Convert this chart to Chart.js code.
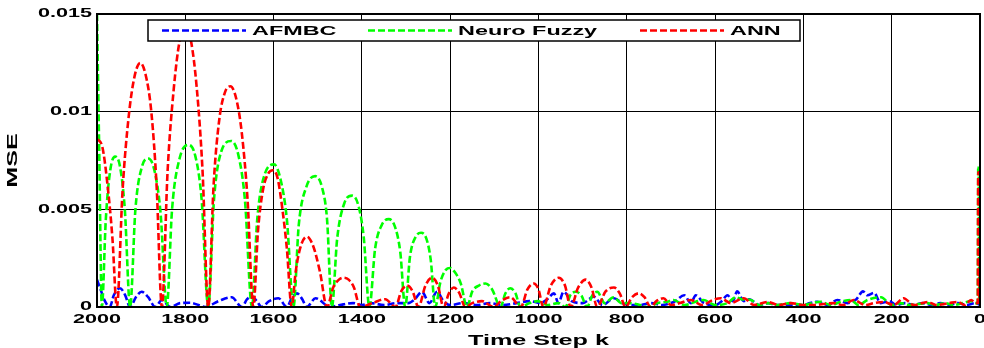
<!DOCTYPE html>
<html>
<head>
<meta charset="utf-8">
<script src="https://cdn.jsdelivr.net/npm/chart.js@4.4.1/dist/chart.umd.min.js"></script>
<style>
    html, body { margin: 0; padding: 0; background: #fff; }
    #wrap { width: 984px; height: 348px; }
</style>
</head>
<body>
<div id="wrap"><canvas id="mseChart"></canvas></div>
<script>
const seriesNames = ["AFMBC", "Neuro Fuzzy", "ANN"];
const yTickLabels = ["0", "0.005", "0.01", "0.015"];

// AFMBC
const afmbcSteps = [
    2000, 1992, 1982, 1971, 1962, 1948, 1936, 1925,
    1912, 1899, 1884, 1868, 1853, 1834, 1812, 1789,
    1770, 1755, 1725, 1695, 1672, 1660, 1649, 1638,
    1627, 1610, 1589, 1570, 1558, 1547, 1535, 1525,
    1505, 1472, 1450, 1420, 1400, 1380, 1350, 1320,
    1295, 1280, 1264, 1247, 1230, 1215, 1200, 1170,
    1140, 1110, 1080, 1050, 1020, 995, 980, 965,
    955, 943, 925, 900, 875, 855, 829, 810,
    790, 770, 745, 720, 700, 690, 670, 655,
    644, 625, 600, 585, 572, 560, 550, 535,
    523, 500, 480, 460, 430, 400, 385, 368,
    345, 323, 300, 280, 265, 255, 240, 225,
    205, 190, 170, 150, 130, 110, 90, 70,
    50, 30, 10, 0
];
const afmbcMse = [
    0.0014, 0.0009, 0.0003, 0, 0.0006, 0.00096, 0.0006, 0,
    0.0005, 0.00078, 0.0005, 0, 0.00036, 0, 0.0002, 0.00022,
    0.0001, 0, 0.0003, 0.0005, 0, 0.0004, 0.00053, 0.0003,
    0, 0.0003, 0.00045, 0, 0.0005, 0.0007, 0.0004, 0,
    0.00045, 0, 0.0001, 0.0002, 0.0001, 0.0002, 0.0001, 0.0002,
    0.0002, 0.0004, 0.00078, 0.0002, 0.00078, 0.0003, 0.0001, 0.0002,
    0.0001, 0.0002, 0.0001, 0.0002, 0.0003, 0.0002, 0.0004, 0.0007,
    0.0002, 0.00078, 0.0003, 0.0002, 0.00053, 0.0001, 0.00045, 0.0002,
    0.0001, 0.0001, 0.0002, 0.0001, 0.0002, 0.0003, 0.0006, 0.0002,
    0.0006, 0.0002, 0.0001, 0.0003, 0.0006, 0.0003, 0.0008, 0.0003,
    0.0004, 0.0001, 0.0002, 0.0001, 0.0001, 0.0001, 0.0002, 0.00027,
    0.0001, 0.00036, 0.0002, 0.0004, 0.0008, 0.0006, 0.00073, 0.0002,
    0.0003, 0.0001, 0.0002, 0.0001, 0.0002, 0.0001, 0.0002, 0.0001,
    0.0002, 0.0001, 0.0002, 0.0001
];

// Neuro Fuzzy
const fuzzySteps = [
    2000, 1995, 1989, 1980, 1970, 1959, 1948, 1937,
    1925, 1913, 1898, 1884, 1870, 1856, 1842, 1830,
    1813, 1793, 1777, 1763, 1748, 1735, 1718, 1696,
    1680, 1665, 1649, 1637, 1620, 1599, 1585, 1570,
    1555, 1543, 1525, 1506, 1490, 1479, 1468, 1456,
    1440, 1422, 1408, 1396, 1383, 1370, 1355, 1339,
    1325, 1313, 1302, 1291, 1278, 1266, 1254, 1244,
    1234, 1222, 1210, 1200, 1190, 1176, 1162, 1150,
    1135, 1120, 1105, 1086, 1075, 1064, 1052, 1041,
    1020, 1002, 980, 955, 939, 928, 916, 903,
    890, 878, 867, 850, 830, 812, 792, 770,
    753, 730, 708, 694, 670, 644, 626, 600,
    572, 553, 540, 519, 500, 480, 459, 430,
    400, 380, 361, 338, 315, 293, 275, 255,
    224, 200, 180, 160, 141, 120, 100, 80,
    60, 40, 20, 10, 5, 4, 3, 2
];
const fuzzyMse = [
    0.0150, 0.0080, 0, 0.0045, 0.0070, 0.0077, 0.0072, 0.0050,
    0, 0.0050, 0.0072, 0.0076, 0.0070, 0.0048, 0, 0.0050,
    0.0076, 0.0083, 0.0077, 0.0055, 0, 0.0055, 0.0080, 0.0085,
    0.0078, 0.0055, 0, 0.0045, 0.0068, 0.0073, 0.0066, 0.0045,
    0, 0.0042, 0.0062, 0.0067, 0.0061, 0.0045, 0, 0.0035,
    0.0053, 0.0057, 0.0052, 0.0036, 0, 0.0030, 0.0042, 0.0045,
    0.0041, 0.0028, 0, 0.0026, 0.0036, 0.0038, 0.0035, 0.0024,
    0, 0.0013, 0.0019, 0.0020, 0.0018, 0.0012, 0, 0.0008,
    0.0011, 0.0012, 0.0009, 0, 0.0007, 0.00096, 0.0007, 0,
    0.0002, 0.0003, 0.0001, 0.0002, 0, 0.0006, 0.00078, 0.0006,
    0, 0.0006, 0.00078, 0.0002, 0.0005, 0.0002, 0.0002, 0.0001,
    0, 0.0002, 0.00027, 0.00036, 0.0001, 0.00027, 0.00036, 0.0001,
    0.0002, 0.0005, 0.0004, 0.00036, 0.0001, 0.0002, 0.0001, 0.0002,
    0.0001, 0.0002, 0.00027, 0.0001, 0.00027, 0.00036, 0.0001, 0.00036,
    0.0005, 0.0001, 0.0002, 0.0001, 0.00015, 0.0002, 0.0001, 0.0002,
    0.0001, 0.0002, 0.0003, 0.0002, 0.0002, 0.0072, 0.0072, 0.0001
];

// ANN
const annSteps = [
    2000, 1988, 1975, 1965, 1955, 1942, 1928, 1915,
    1902, 1890, 1877, 1865, 1853, 1840, 1826, 1813,
    1800, 1787, 1774, 1761, 1748, 1736, 1723, 1710,
    1698, 1685, 1672, 1659, 1646, 1635, 1624, 1613,
    1602, 1591, 1580, 1570, 1559, 1550, 1540, 1525,
    1510, 1495, 1479, 1465, 1452, 1442, 1430, 1418,
    1404, 1376, 1347, 1324, 1311, 1298, 1285, 1272,
    1256, 1241, 1228, 1215, 1203, 1192, 1179, 1166,
    1150, 1128, 1102, 1085, 1064, 1040, 1025, 1011,
    1000, 989, 972, 954, 940, 927, 910, 893,
    880, 867, 848, 829, 816, 803, 788, 773,
    760, 746, 733, 717, 700, 680, 655, 630,
    605, 587, 565, 535, 512, 481, 455, 429,
    400, 376, 355, 331, 310, 286, 260, 240,
    218, 195, 173, 150, 118, 100, 70, 50,
    35, 20, 10, 5, 4, 3, 2, 0
];
const annMse = [
    0.0086, 0.0082, 0.0060, 0.0035, 0, 0.0060, 0.0098, 0.0118,
    0.0125, 0.0119, 0.0100, 0.0062, 0, 0.0070, 0.0112, 0.0136,
    0.0143, 0.0136, 0.0112, 0.0070, 0, 0.0062, 0.0096, 0.0110,
    0.0113, 0.0107, 0.0089, 0.0055, 0, 0.0040, 0.0060, 0.0068,
    0.0070, 0.0066, 0.0050, 0.0030, 0, 0.0018, 0.0030, 0.0036,
    0.0031, 0.0018, 0, 0.0010, 0.0014, 0.0015, 0.0014, 0.0010,
    0, 0.0002, 0.0004, 0, 0.0008, 0.0011, 0.0008, 0,
    0.0011, 0.0015, 0.0011, 0, 0.0007, 0.0010, 0.0007, 0,
    0.0002, 0.0003, 0, 0.0003, 0.0005, 0, 0.0009, 0.0012,
    0.0009, 0, 0.0011, 0.0015, 0.0011, 0, 0.0010, 0.0014,
    0.0010, 0, 0.0008, 0.0010, 0.0007, 0, 0.0005, 0.0007,
    0.0005, 0, 0.0003, 0.00045, 0.0001, 0.0002, 0.00036, 0.0001,
    0.00036, 0.00045, 0.0002, 0.00045, 0.0001, 0.00026, 0.0001, 0.0002,
    0.0001, 0.0001, 0.00015, 0.0002, 0.0001, 0.00036, 0.0001, 0.0002,
    0.00026, 0.0001, 0.00045, 0.0001, 0.00026, 0.0001, 0.0002, 0.00026,
    0.0001, 0.00036, 0.0002, 0.0002, 0.0069, 0.0069, 0.0002, 0.0024
];

const toPoints = (steps, values) => steps.map((k, i) => ({ x: k, y: values[i] }));

const FONT = '"Liberation Sans", Arial, sans-serif';
// the figure's lettering is very wide, so text gets stretched sideways
const TEXT_STRETCH = 1.8;

const wideText = {
    id: "wideText",
    beforeInit(chart) {
        const ctx = chart.ctx;
        const fill = ctx.fillText.bind(ctx);
        const measure = ctx.measureText.bind(ctx);
        ctx.fillText = (str, x, y) => {
            ctx.save();
            ctx.translate(x, y);
            ctx.scale(TEXT_STRETCH, 1);
            fill(str, 0, 0);
            ctx.restore();
        };
        ctx.measureText = (str) => {
            const m = measure(str);
            return {
                width: m.width * TEXT_STRETCH,
                actualBoundingBoxAscent: m.actualBoundingBoxAscent,
                actualBoundingBoxDescent: m.actualBoundingBoxDescent
            };
        };
    }
};

const plotFrame = {
    id: "plotFrame",
    afterDatasetsDraw(chart) {
        const { ctx, chartArea: a } = chart;
        ctx.save();
        ctx.strokeStyle = "#000";
        ctx.lineWidth = 2;
        ctx.strokeRect(a.left, a.top, a.right - a.left, a.bottom - a.top);
        ctx.restore();
    }
};

const boxLegend = {
    id: "boxLegend",
    afterDraw(chart) {
        const { ctx, chartArea: a } = chart;
        const x0 = a.left + 51, y0 = a.top + 6, w = 652, h = 21;
        const starts = [14, 220, 492];
        ctx.save();
        ctx.fillStyle = "#fff";
        ctx.fillRect(x0, y0, w, h);
        ctx.strokeStyle = "#000";
        ctx.lineWidth = 1.5;
        ctx.strokeRect(x0, y0, w, h);
        chart.data.datasets.forEach((ds, i) => {
            const lx = x0 + starts[i], ly = y0 + h / 2;
            ctx.setLineDash(ds.borderDash);
            ctx.strokeStyle = ds.borderColor;
            ctx.lineWidth = ds.borderWidth;
            ctx.beginPath();
            ctx.moveTo(lx, ly);
            ctx.lineTo(lx + 84, ly);
            ctx.stroke();
            ctx.setLineDash([]);
            ctx.fillStyle = "#000";
            ctx.font = "bold 13px " + FONT;
            ctx.textAlign = "left";
            ctx.textBaseline = "middle";
            ctx.fillText(ds.label, lx + 90, ly + 0.5);
        });
        ctx.restore();
    }
};

function lineSet(label, points, color, order) {
    return {
        label: label,
        data: points,
        borderColor: color,
        backgroundColor: color,
        borderWidth: 2.6,
        borderDash: [7, 3],
        pointRadius: 0,
        fill: false,
        cubicInterpolationMode: "monotone",
        order: order
    };
}

Chart.defaults.font.family = FONT;
Chart.defaults.color = "#000";

new Chart(document.getElementById("mseChart"), {
    type: "line",
    data: {
        datasets: [
            lineSet(seriesNames[0], toPoints(afmbcSteps, afmbcMse), "#0000ff", 3),
            lineSet(seriesNames[1], toPoints(fuzzySteps, fuzzyMse), "#00ff00", 2),
            lineSet(seriesNames[2], toPoints(annSteps, annMse), "#ff0000", 1)
        ]
    },
    options: {
        responsive: true,
        maintainAspectRatio: false,
        animation: false,
        events: [],
        layout: { padding: { top: 14, right: 4, left: 0, bottom: 0 } },
        plugins: {
            legend: { display: false },
            tooltip: { enabled: false }
        },
        scales: {
            x: {
                type: "linear",
                min: 0,
                max: 2000,
                reverse: true,
                ticks: {
                    stepSize: 200,
                    padding: 5,
                    maxRotation: 0,
                    autoSkip: false,
                    font: { size: 12, weight: "bold" },
                    callback: (v) => String(v)
                },
                grid: { color: "#000", lineWidth: 1, drawTicks: false },
                border: { color: "#000", width: 2 },
                title: {
                    display: true,
                    text: "Time Step k",
                    font: { size: 14, weight: "bold", lineHeight: 1 },
                    padding: { top: 0, bottom: 0 }
                },
                afterFit(scale) {
                    scale.height = 41;
                    scale.paddingLeft = 0;
                    scale.paddingRight = 0;
                }
            },
            y: {
                min: 0,
                max: 0.015,
                ticks: {
                    stepSize: 0.005,
                    padding: 5,
                    font: { size: 12, weight: "bold" },
                    callback: (v) => yTickLabels[Math.round(v / 0.005)]
                },
                grid: { color: "#000", lineWidth: 1, drawTicks: false },
                border: { color: "#000", width: 2 },
                title: {
                    display: true,
                    text: "MSE",
                    font: { size: 14, weight: "bold" },
                    padding: { top: 5, bottom: 0 }
                },
                afterFit(scale) {
                    scale.width = 97;
                }
            }
        }
    },
    plugins: [wideText, plotFrame, boxLegend]
});
</script>
</body>
</html>
